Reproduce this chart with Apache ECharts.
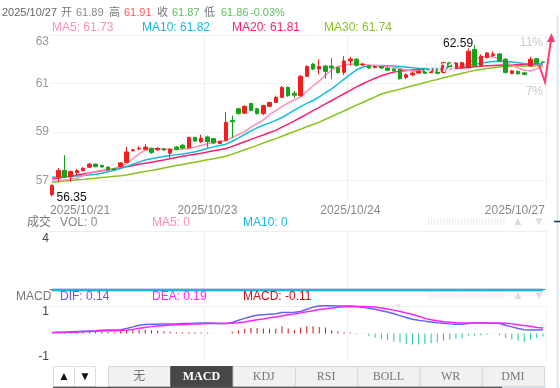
<!DOCTYPE html>
<html><head><meta charset="utf-8">
<script src="https://cdn.jsdelivr.net/npm/echarts@6/dist/echarts.min.js"></script>
<style>html,body{margin:0;padding:0;background:#fff}#c{width:560px;height:388px}</style>
</head><body><div id="c"></div><script>
// ---------- data ----------
// [open, close, low, high]
const ohlc = [
[56.42,56.80,56.35,56.85],[57.15,57.42,56.95,57.52],[57.42,57.15,57.10,58.05],[57.16,57.37,56.96,57.42],[57.33,57.41,57.20,57.48],
[57.41,57.51,57.38,57.55],[57.55,57.68,57.52,57.72],[57.68,57.57,57.55,57.70],[57.63,57.56,57.54,57.65],[57.56,57.46,57.40,57.58],
[57.49,57.45,57.42,57.50],[57.57,57.73,57.55,57.76],[57.75,58.18,57.72,58.39],[58.23,58.27,58.20,58.30],[58.30,58.33,58.25,58.42],
[58.29,58.38,58.27,58.50],[58.33,58.16,58.10,58.36],[58.27,58.32,58.22,58.38],[58.31,58.26,58.22,58.33],[58.13,58.30,57.93,58.33],
[58.38,58.29,58.25,58.42],[58.46,58.34,58.30,58.50],[58.35,58.78,58.30,58.80],[58.78,58.63,58.60,58.80],[58.60,58.74,58.55,58.90],
[58.80,58.60,58.36,58.85],[58.73,58.55,58.50,58.76],[58.53,58.62,58.50,58.65],[58.65,59.40,58.62,59.82],[59.48,59.42,58.75,59.68],
[59.96,59.76,59.72,60.00],[59.78,60.06,59.75,60.10],[60.18,59.89,59.85,60.20],[59.96,59.76,59.72,60.00],[59.76,60.09,59.70,60.12],
[60.06,60.22,60.03,60.25],[60.22,60.43,60.20,60.50],[60.43,60.84,60.40,60.90],[60.84,60.50,60.45,60.88],[60.60,60.52,60.40,60.70],
[60.50,61.30,60.45,61.35],[61.30,61.70,61.28,61.75],[61.80,61.60,61.55,61.85],[61.60,61.70,61.38,62.00],[61.72,61.50,61.20,61.76],
[61.72,61.64,61.18,62.06],[61.66,61.45,61.40,61.70],[61.46,61.93,61.35,62.13],[61.93,62.01,61.75,62.10],[62.00,61.75,61.70,62.05],
[61.77,61.80,61.72,61.85],[61.73,61.64,61.60,61.76],[61.66,61.70,61.62,61.74],[61.70,61.64,61.60,61.72],[61.64,61.55,61.52,61.68],
[61.60,61.52,61.50,61.62],[61.58,61.20,61.16,61.60],[61.25,61.36,61.18,61.42],[61.36,61.43,61.30,61.48],[61.43,61.50,61.40,61.55],
[61.55,61.42,61.40,61.58],[61.45,61.58,61.42,61.62],[61.56,61.42,61.38,61.60],[61.45,61.86,61.42,61.90],[61.85,61.65,61.60,61.90],
[61.66,61.85,61.62,61.88],[61.66,61.86,61.62,61.90],[61.66,62.33,61.62,62.45],[62.40,61.72,61.70,62.59],[61.75,62.12,61.70,62.20],
[62.07,62.26,62.03,62.30],[62.16,62.22,62.10,62.33],[62.22,61.93,61.90,62.25],[62.00,61.45,61.42,62.06],[61.42,61.52,61.38,61.56],
[61.50,61.40,61.36,61.54],[61.44,61.37,61.34,61.46],[61.72,62.00,61.70,62.10],[62.02,61.84,61.80,62.05],[61.89,61.87,61.86,61.91]
];
const ma5 = [56.96,56.98,57.02,57.06,57.10,57.20,57.30,57.38,57.42,57.46,
57.50,57.57,57.70,57.90,58.10,58.25,58.30,58.32,58.30,58.27,
58.28,58.30,58.32,58.38,58.45,58.52,58.58,58.60,58.66,58.78,
58.90,59.02,59.20,59.35,59.50,59.72,59.88,60.05,60.20,60.32,
60.45,60.68,60.90,61.10,61.35,61.55,61.70,61.75,61.80,61.80,
61.78,61.76,61.74,61.72,61.70,61.67,61.62,61.56,61.52,61.50,
61.49,61.50,61.52,61.55,61.60,61.66,61.74,61.86,61.98,62.08,
62.12,62.10,62.00,61.88,61.76,61.64,61.55,61.52,61.60,61.73];
const ma10 = [57.14,57.15,57.16,57.17,57.19,57.21,57.23,57.26,57.30,57.36,
57.43,57.50,57.58,57.67,57.76,57.85,57.90,57.95,57.99,58.03,
58.07,58.10,58.14,58.19,58.25,58.32,58.39,58.45,58.50,58.62,
58.76,58.90,59.05,59.17,59.28,59.38,59.48,59.60,59.75,59.90,
60.05,60.18,60.30,60.45,60.62,60.78,60.98,61.18,61.38,61.56,
61.68,61.72,61.74,61.74,61.73,61.72,61.70,61.68,61.65,61.63,
61.62,61.62,61.62,61.64,61.66,61.68,61.70,61.74,61.79,61.84,
61.88,61.91,61.92,61.91,61.89,61.86,61.83,61.82,61.82,61.82];
const ma20 = [57.06,57.10,57.15,57.19,57.23,57.27,57.31,57.36,57.40,57.44,
57.49,57.53,57.57,57.62,57.67,57.71,57.76,57.81,57.85,57.90,
57.95,58.00,58.04,58.09,58.13,58.18,58.23,58.27,58.32,58.41,
58.51,58.60,58.70,58.79,58.88,58.98,59.07,59.20,59.33,59.46,
59.60,59.74,59.88,60.02,60.16,60.30,60.44,60.58,60.72,60.86,
60.99,61.11,61.22,61.32,61.40,61.47,61.51,61.54,61.56,61.57,
61.58,61.58,61.59,61.60,61.61,61.62,61.64,61.66,61.69,61.71,
61.73,61.74,61.75,61.76,61.76,61.77,61.78,61.79,61.80,61.81];
const ma30 = [56.93,56.95,56.98,57.00,57.03,57.05,57.08,57.10,57.13,57.15,
57.18,57.20,57.23,57.28,57.33,57.38,57.42,57.47,57.52,57.57,
57.62,57.66,57.71,57.76,57.81,57.86,57.90,57.95,58.00,58.09,
58.18,58.27,58.36,58.45,58.55,58.64,58.73,58.83,58.93,59.02,
59.12,59.22,59.31,59.41,59.53,59.64,59.76,59.87,59.99,60.11,
60.22,60.34,60.45,60.57,60.64,60.70,60.77,60.84,60.91,60.97,
61.04,61.11,61.17,61.24,61.30,61.36,61.42,61.48,61.54,61.58,
61.62,61.65,61.68,61.70,61.71,61.72,61.72,61.73,61.73,61.74];
const volume = [0,0,0,0,0,0,0,0,0,0,0,0,0,0,0,0,0,0,0,0,0,0,0,0,0,0,0,0,0,0,0,0,0,0,0,0,0,0,0,0,
0,0,0,0,0,0,0,0,0,0,0,0,0,0,0,0,0,0,0,0,0,0,0,0,0,0,0,0,0,0,0,0,0,0,0,0,0,0,0,0];
const volMa5 = [0,0,0,0,0,0,0,0,0,0,0,0,0,0,0,0,0,0,0,0,0,0,0,0,0,0,0,0,0,0,0,0,0,0,0,0,0,0,0,0,
0,0,0,0,0,0,0,0,0,0,0,0,0,0,0,0,0,0,0,0,0,0,0,0,0,0,0,0,0,0,0,0,0,0,0,0,0,0,0,0];
const volMa10 = [0,0,0,0,0,0,0,0,0,0,0,0,0,0,0,0,0,0,0,0,0,0,0,0,0,0,0,0,0,0,0,0,0,0,0,0,0,0,0,0,
0,0,0,0,0,0,0,0,0,0,0,0,0,0,0,0,0,0,0,0,0,0,0,0,0,0,0,0,0,0,0,0,0,0,0,0,0,0,0,0];
const dif = [0.04,0.05,0.05,0.06,0.07,0.08,0.09,0.10,0.12,0.13,
0.13,0.14,0.18,0.24,0.30,0.33,0.34,0.34,0.35,0.35,
0.35,0.36,0.36,0.37,0.38,0.38,0.37,0.36,0.36,0.40,
0.48,0.55,0.62,0.66,0.68,0.70,0.72,0.76,0.76,0.77,
0.80,0.88,0.96,1.00,1.01,1.01,1.00,1.00,1.00,0.98,
0.95,0.92,0.88,0.83,0.78,0.72,0.65,0.58,0.52,0.48,
0.45,0.42,0.39,0.37,0.35,0.34,0.34,0.36,0.38,0.38,
0.37,0.37,0.36,0.30,0.24,0.18,0.14,0.13,0.13,0.14];
const dea = [0.03,0.04,0.04,0.05,0.05,0.06,0.07,0.08,0.09,0.10,
0.10,0.11,0.12,0.15,0.19,0.22,0.25,0.27,0.29,0.31,
0.32,0.33,0.34,0.35,0.35,0.36,0.36,0.36,0.36,0.37,
0.39,0.42,0.46,0.50,0.53,0.57,0.60,0.64,0.68,0.71,
0.75,0.79,0.83,0.87,0.90,0.93,0.95,0.97,0.98,0.98,
0.98,0.97,0.96,0.93,0.89,0.85,0.80,0.75,0.69,0.63,
0.55,0.50,0.46,0.43,0.41,0.39,0.38,0.38,0.38,0.38,
0.38,0.38,0.38,0.37,0.35,0.32,0.29,0.26,0.22,0.20];
const macd = [-0.01,0.01,0.02,0.02,0.04,0.05,0.06,0.07,0.06,0.05,
0.04,0.08,0.12,0.14,0.15,0.14,0.12,0.10,0.08,0.06,
0.05,0.05,0.05,0.05,0.04,0.03,0.01,0.00,0.01,0.06,
0.11,0.16,0.20,0.20,0.18,0.17,0.17,0.26,0.18,0.12,
0.22,0.26,0.26,0.24,0.22,0.12,0.07,0.05,0.04,0.02,
-0.02,-0.10,-0.15,-0.20,-0.24,-0.30,-0.33,-0.38,-0.40,-0.40,
-0.38,-0.35,-0.32,-0.26,-0.22,-0.18,-0.16,-0.08,-0.08,-0.06,
-0.04,-0.02,-0.06,-0.16,-0.22,-0.26,-0.30,-0.22,-0.16,-0.11];
const categories = ohlc.map((_, i) => 'k' + i);
const dateLabelIdx = [0, 25, 48, 79];
const dateLabels = ['2025/10/21', '2025/10/23', '2025/10/24', '2025/10/27'];
const dayBreakIdx = [25, 48];
const priceTicks = [57, 59, 61, 63];
const pctLabels = ['11%', '7%'];
const tabs = ['无', 'MACD', 'KDJ', 'RSI', 'BOLL', 'WR', 'DMI'];

// ---------- styles ----------
const F = '"Liberation Sans", Arial, "Noto Sans CJK SC", sans-serif';
const UP = '#f41e1e', DOWN = '#17a317';
const C5 = '#ff8db4', C10 = '#15b9dc', C20 = '#ff1f6d', C30 = '#86c41c';
const GRID_L = 49, GRID_R = 14;

function T(text, x, y, fill, size, opt) {
  opt = opt || {};
  return { type: 'text', silent: true, z: 100, style: {
    text: text, x: x, y: y, fill: fill,
    font: (opt.weight || 'normal') + ' ' + (size || 12) + 'px ' + (opt.font || F),
    align: opt.align || 'left', verticalAlign: 'middle' } };
}
const g = [];
[['2025/10/27', 2, '#666'], ['开', 61, '#777'], ['61.89', 76, '#888'], ['高', 109, '#777'], ['61.91', 124, '#ff5555'],
 ['收', 157, '#777'], ['61.87', 172, '#5cbf5c'], ['低', 204, '#777'], ['61.86', 221, '#5cbf5c'], ['-0.03%', 250, '#5cbf5c']]
  .forEach(s => g.push(T(s[0], s[1], 13, s[2], 11)));
[['MA5: 61.73', 52, C5], ['MA10: 61.82', 142, C10], ['MA20: 61.81', 232, C20], ['MA30: 61.74', 324, C30]]
  .forEach(s => g.push(T(s[0], s[1], 28, s[2], 12)));
[['成交', 27, '#777'], ['VOL: 0', 60, '#888'], ['MA5: 0', 152, C5], ['MA10: 0', 243, C10]]
  .forEach(s => g.push(T(s[0], s[1], 223, s[2], 12)));
[['MACD', 16, '#777'], ['DIF: 0.14', 60, '#5b5bf5'], ['DEA: 0.19', 152, '#ff22ff'], ['MACD: -0.11', 243, '#cc1111']]
  .forEach(s => g.push(T(s[0], s[1], 297, s[2], 12)));
g.push(T(pctLabels[0], 543, 43, '#cccccc', 12, {align: 'right'}));
g.push(T(pctLabels[1], 543, 92, '#cccccc', 12, {align: 'right'}));
g.push(T('sina', 440, 68, '#eeeeee', 16, {align: 'center', weight: 'bold italic'}));
g.push({type: 'polyline', silent: true, z: 90, shape: {points: [[539, 65], [545, 82], [551, 40]]},
  style: {stroke: '#ff3d6e', lineWidth: 2, fill: null}});
g.push({type: 'polygon', silent: true, z: 90, shape: {points: [[551.5, 33], [547, 42], [555, 42]]},
  style: {fill: '#ff3d6e'}});
[222, 296].forEach(y => {
  [-2, 0, 2].forEach(d => g.push({type: 'line', silent: true, shape: {x1: 428, y1: y + d, x2: 505, y2: y + d},
    style: {stroke: '#dddddd', lineWidth: 1, lineDash: [1.5, 1.5]}}));
  g.push(T('▲', 518, y, '#dddddd', 12, {align: 'center'}));
  g.push(T('▼', 539, y, '#dddddd', 12, {align: 'center'}));
});
g.push({type: 'line', silent: true, shape: {x1: 557.5, y1: 15, x2: 557.5, y2: 388}, style: {stroke: '#d3e6f7', lineWidth: 1.5}});
g.push({type: 'line', silent: true, shape: {x1: 554, y1: 221.5, x2: 560, y2: 221.5}, style: {stroke: '#1a2a6c', lineWidth: 1.5}});
[['▲', 53], ['▼', 74]].forEach(b => {
  g.push({type: 'rect', silent: true, shape: {x: b[1] + 0.5, y: 366.5, width: 21, height: 20}, style: {fill: '#fff', stroke: '#dddddd'}});
  g.push(T(b[0], b[1] + 11, 377, '#111', 12, {align: 'center'}));
});
const TAB_X = 108, TAB_W = 62.3;
tabs.forEach((t, i) => {
  const sel = t === 'MACD';
  g.push({type: 'rect', silent: true, shape: {x: TAB_X + i * TAB_W + 0.5, y: 366.5, width: TAB_W, height: 20},
    style: {fill: sel ? '#474747' : '#f1f1f1', stroke: sel ? '#474747' : '#d6d6d6'}});
  g.push(T(t, TAB_X + i * TAB_W + TAB_W / 2, 377, sel ? '#fff' : '#777', 12,
    {align: 'center', weight: sel ? 'bold' : 'normal', font: '"Liberation Serif", "DejaVu Serif", "Noto Sans CJK SC", serif'}));
});
g.push({type: 'line', silent: true, shape: {x1: 53, y1: 387.5, x2: 502, y2: 387.5}, style: {stroke: '#555', lineWidth: 1.5}});
g.push({type: 'line', silent: true, shape: {x1: 502, y1: 387.5, x2: 546, y2: 387.5}, style: {stroke: '#cfe2f3', lineWidth: 1.5}});

const grids = [
  {left: GRID_L, right: GRID_R, top: 35, height: 165},
  {left: GRID_L, right: GRID_R, top: 231, height: 59},
  {left: GRID_L, right: GRID_R, top: 306, height: 55}
];
const xAxes = [0, 1, 2].map(k => ({
  type: 'category', gridIndex: k, data: categories, boundaryGap: true,
  position: k === 0 ? 'bottom' : 'top',
  axisLine: {show: k !== 0, onZero: false, lineStyle: {color: '#eeeeee'}},
  axisTick: {show: false},
  axisLabel: k === 0 ? {
    show: true, margin: 5, color: '#888', fontSize: 12, fontFamily: F, hideOverlap: false,
    interval: (i) => dateLabelIdx.indexOf(i) >= 0,
    formatter: (v, i) => {
      const j = dateLabelIdx.indexOf(i);
      if (j < 0) return '';
      if (j === 0) return '{l|' + dateLabels[j] + '}';
      if (j === dateLabels.length - 1) return '{r|' + dateLabels[j] + '}';
      return dateLabels[j];
    },
    rich: {
      l: {padding: [0, 0, 0, 56], color: '#888', fontSize: 12, fontFamily: F},
      r: {padding: [0, 56, 0, 0], color: '#888', fontSize: 12, fontFamily: F}
    }
  } : {show: false},
  splitLine: {show: true, interval: (i) => dayBreakIdx.indexOf(i) >= 0, lineStyle: {color: '#eeeeee'}}
}));
const yAxes = [
  {type: 'value', gridIndex: 0, min: 56.2, max: 63, scale: true,
   axisLine: {show: false}, axisTick: {show: false, customValues: priceTicks},
   axisLabel: {customValues: priceTicks, margin: 0, color: '#999', fontSize: 12, fontFamily: F,
     formatter: v => v === 63 ? '{t|63}' : String(v),
     rich: {t: {padding: [14, 0, 0, 0], color: '#999', fontSize: 12, fontFamily: F}}},
   splitLine: {show: true, lineStyle: {color: '#f2f2f2'}}},
  {type: 'value', gridIndex: 1, min: 0, max: 4,
   axisLine: {show: false}, axisTick: {show: false, customValues: [4]},
   axisLabel: {customValues: [4], margin: 0, color: '#444', fontSize: 12, fontFamily: F,
     formatter: v => '{t|' + v + '}', rich: {t: {padding: [16, 0, 0, 0], color: '#444', fontSize: 12, fontFamily: F}}},
   splitLine: {show: false}},
  {type: 'value', gridIndex: 2, min: -1, max: 1,
   axisLine: {show: false}, axisTick: {show: false, customValues: [-1, 1]},
   axisLabel: {customValues: [-1, 1], margin: 0, color: '#444', fontSize: 12, fontFamily: F,
     formatter: v => v > 0 ? '{t|' + v + '}' : '{b|' + v + '}',
     rich: {t: {padding: [12, 0, 0, 0], color: '#444', fontSize: 12, fontFamily: F},
            b: {padding: [0, 0, 8, 0], color: '#444', fontSize: 12, fontFamily: F}}},
   splitLine: {show: false}}
];

const lineS = (data, color, xi, w, z) => ({type: 'line', xAxisIndex: xi, yAxisIndex: xi, data: data, z: z || 2,
  symbol: 'none', smooth: false, clip: false, lineStyle: {color: color, width: w || 1.5}, itemStyle: {color: color}, silent: true});

const option = {
  animation: false,
  backgroundColor: '#fff',
  grid: grids,
  xAxis: xAxes,
  yAxis: yAxes,
  graphic: g,
  series: [
    {type: 'candlestick', xAxisIndex: 0, yAxisIndex: 0, data: ohlc, barWidth: 4,
     itemStyle: {color: UP, color0: DOWN, borderColor: UP, borderColor0: DOWN, borderWidth: 1},
     markPoint: {
       symbol: 'circle', symbolSize: 1, itemStyle: {color: 'rgba(0,0,0,0)'},
       label: {show: true, color: '#111', fontSize: 12, fontFamily: F, formatter: p => Number(p.value).toFixed(2)},
       data: [
         {type: 'max', valueDim: 'highest', label: {position: 'left', distance: 1, offset: [0, -1]}},
         {type: 'min', valueDim: 'lowest', label: {position: 'right', distance: 4, offset: [0, 1]}}
       ]
     }},
    lineS(ma30, C30, 0), lineS(ma20, C20, 0), lineS(ma10, C10, 0), lineS(ma5, C5, 0),
    {type: 'bar', xAxisIndex: 1, yAxisIndex: 1, data: volume, barWidth: 5, barMinHeight: 1, silent: true, z: 1,
     itemStyle: {color: p => ohlc[p.dataIndex][1] >= ohlc[p.dataIndex][0] ? UP : DOWN}},
    lineS(volMa5, C5, 1, 2.5, 3), lineS(volMa10, C10, 1, 2.5, 4),
    {type: 'bar', xAxisIndex: 2, yAxisIndex: 2, data: macd, barWidth: 1, silent: true,
     itemStyle: {color: p => p.value >= 0 ? '#cc1111' : '#22c39a'}},
    lineS(dif, '#6363f6', 2, 1.5), lineS(dea, '#ff22ff', 2, 1.5)
  ]
};
const chart = echarts.init(document.getElementById('c'), null, {renderer: 'canvas'});
chart.setOption(option);
</script></body></html>
